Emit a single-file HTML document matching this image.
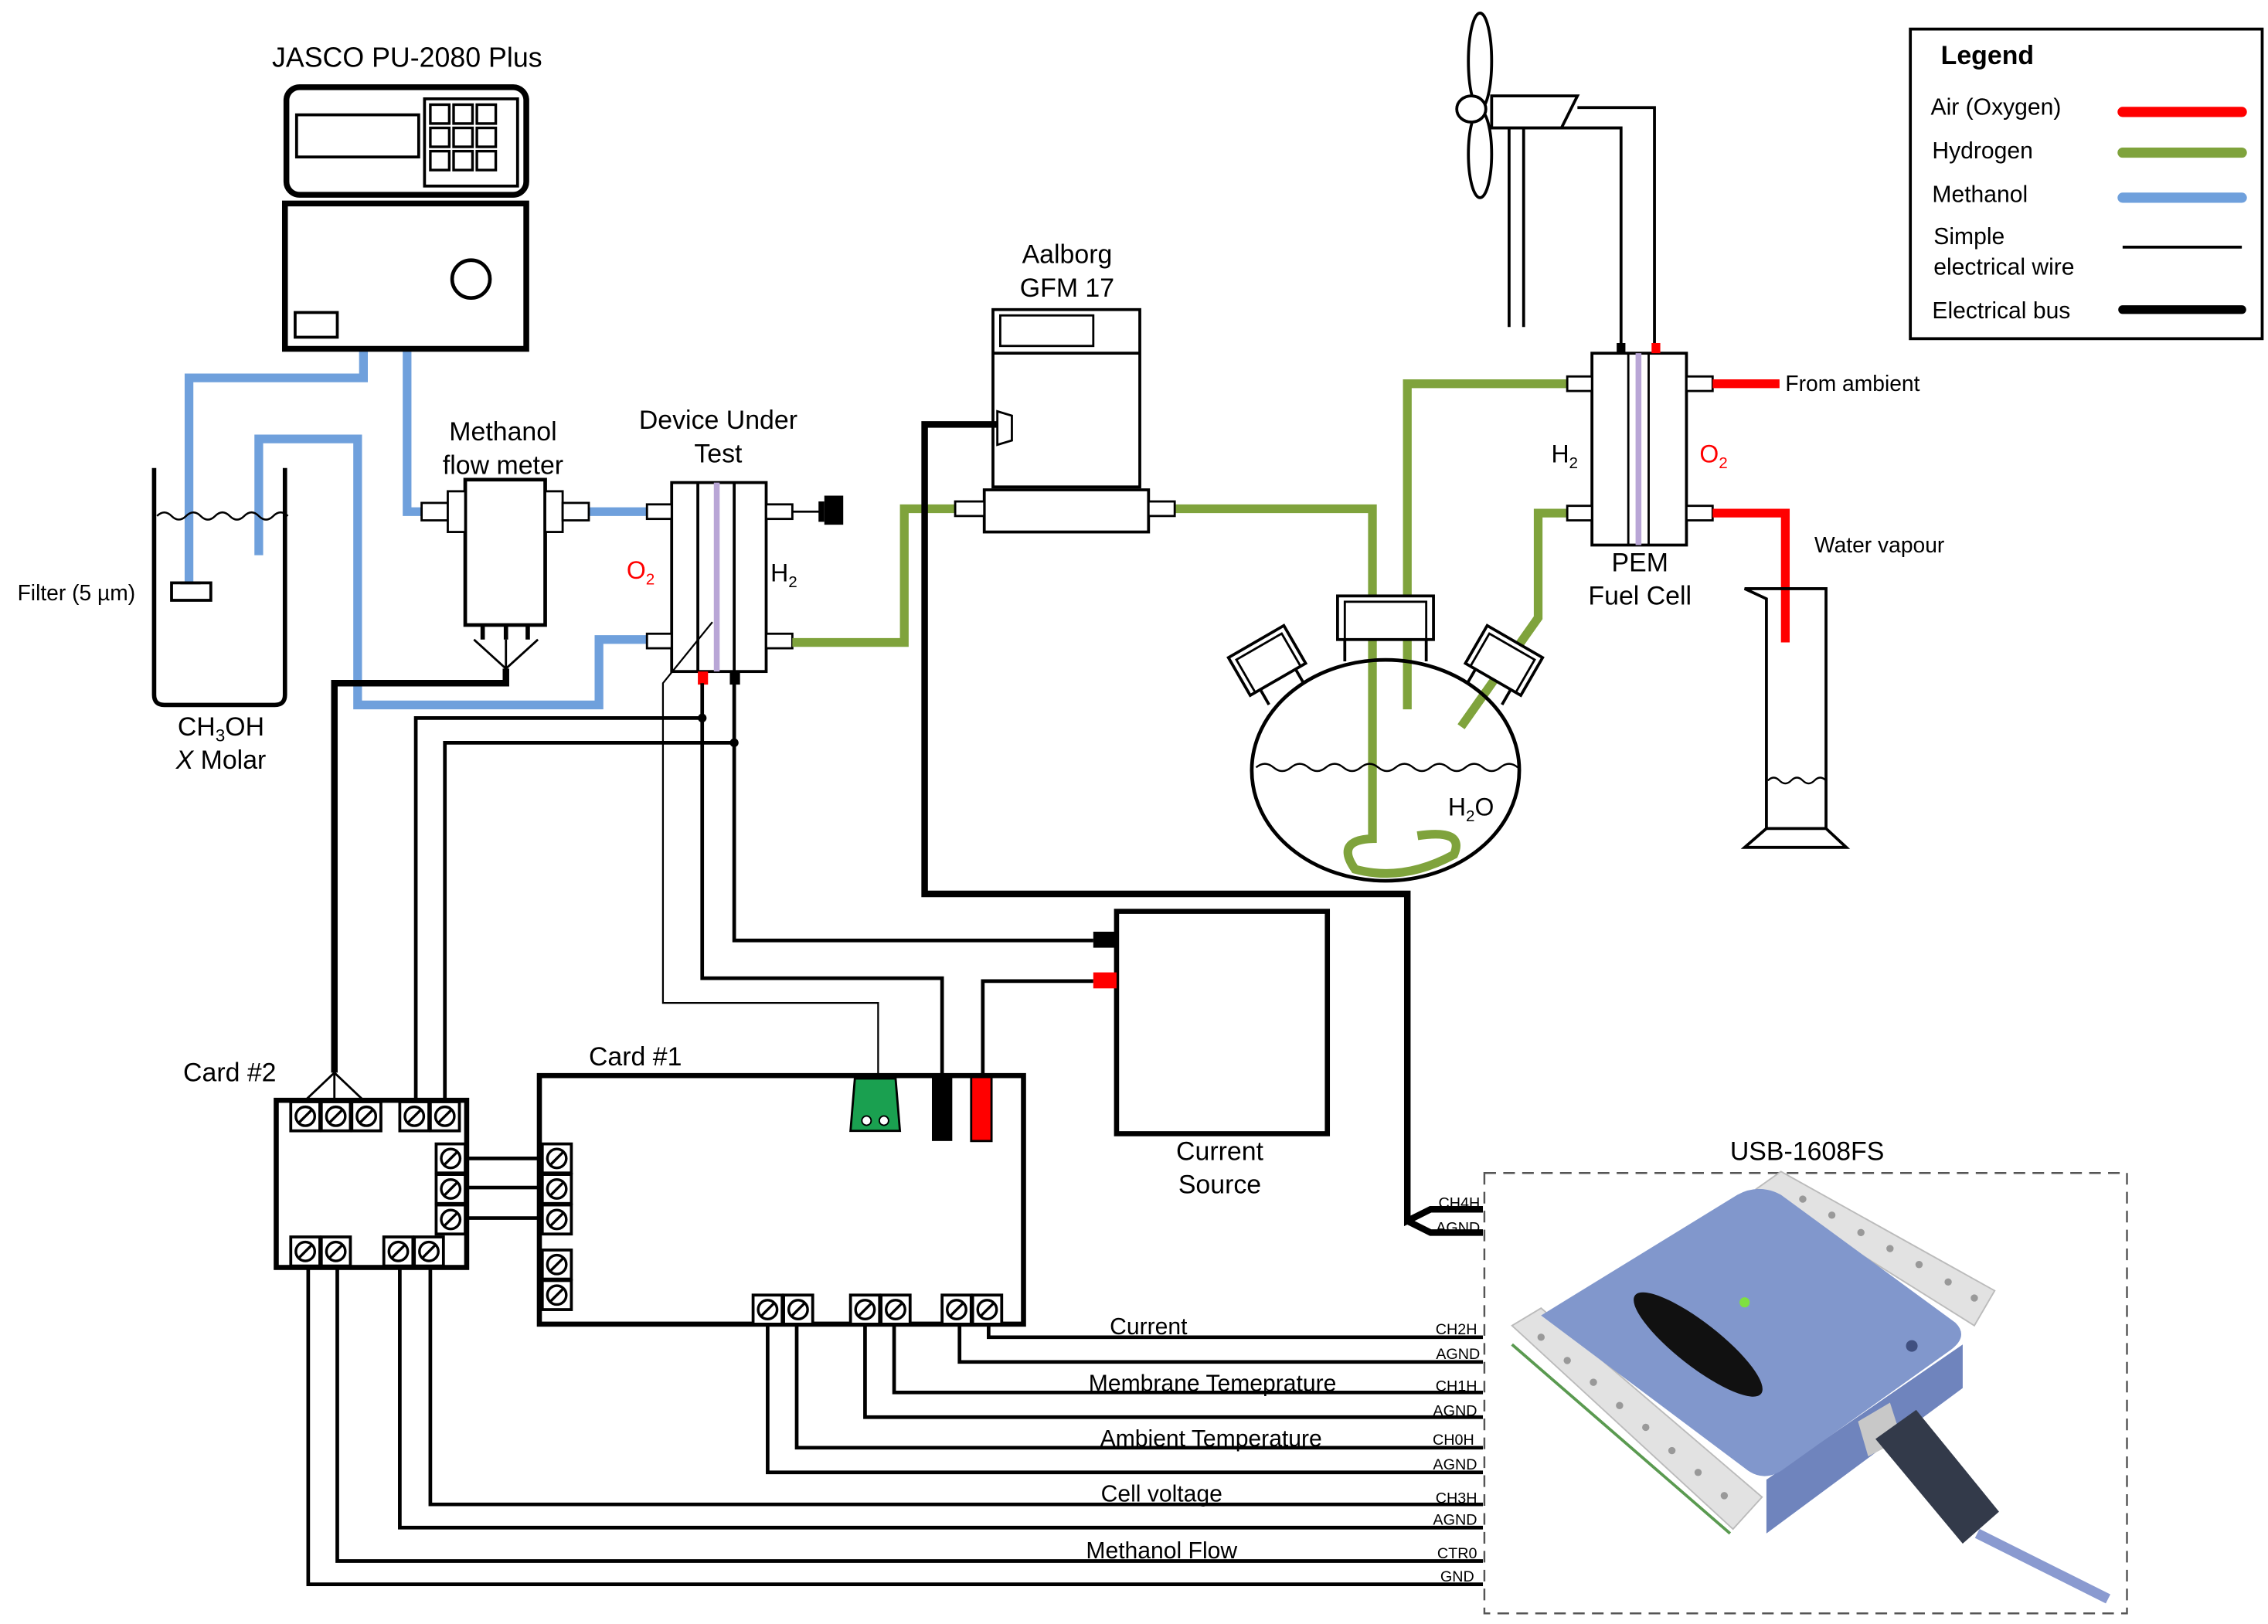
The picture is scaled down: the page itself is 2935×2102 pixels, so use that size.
<!DOCTYPE html>
<html><head><meta charset="utf-8"><style>
html,body{margin:0;padding:0;background:#fff}
svg{display:block}
text{font-family:"Liberation Sans",sans-serif;fill:#000}
</style></head><body>
<svg width="2935" height="2102" viewBox="0 0 1560 1117.3" preserveAspectRatio="none" xmlns="http://www.w3.org/2000/svg">
<defs>
<g id="term"><rect x="0" y="0" width="20" height="20" fill="#fff" stroke="#000" stroke-width="2"/><circle cx="10" cy="10" r="6.5" fill="none" stroke="#000" stroke-width="1.8"/><line x1="5.5" y1="14.5" x2="14.5" y2="5.5" stroke="#000" stroke-width="1.8"/></g>
</defs>
<rect width="1560" height="1118" fill="#fff"/>

<!-- Legend -->
<rect x="1314" y="20" width="242" height="213" fill="none" stroke="#000" stroke-width="2"/>
<text x="1335" y="44" font-size="18" font-weight="bold">Legend</text>
<text x="1328" y="79" font-size="16">Air (Oxygen)</text>
<text x="1329" y="109" font-size="16">Hydrogen</text>
<text x="1329" y="139" font-size="16">Methanol</text>
<text x="1330" y="168" font-size="16">Simple</text>
<text x="1330" y="189" font-size="16">electrical wire</text>
<text x="1329" y="219" font-size="16">Electrical bus</text>
<line x1="1460" y1="77" x2="1542" y2="77" stroke="#f00" stroke-width="7" stroke-linecap="round"/>
<line x1="1460" y1="105" x2="1542" y2="105" stroke="#7fa33c" stroke-width="7" stroke-linecap="round"/>
<line x1="1460" y1="136" x2="1542" y2="136" stroke="#6fa0dc" stroke-width="7" stroke-linecap="round"/>
<line x1="1460" y1="170" x2="1542" y2="170" stroke="#000" stroke-width="2"/>
<line x1="1460" y1="213" x2="1542" y2="213" stroke="#000" stroke-width="6" stroke-linecap="round"/>

<!-- pipes blue -->
<g fill="none" stroke="#6fa0dc" stroke-width="6">
<path d="M250 240 V260 H130 V402"/>
<path d="M178 382 V302 H246 V485 H412 V440 H445"/>
<path d="M280 240 V352 H292"/>
<path d="M404 352 H445"/>
</g>

<!-- JASCO -->
<text x="280" y="46" font-size="19" text-anchor="middle">JASCO PU-2080 Plus</text>
<rect x="197" y="60" width="165" height="74" rx="9" fill="#fff" stroke="#000" stroke-width="4"/>
<rect x="204" y="79" width="84" height="29" fill="none" stroke="#000" stroke-width="2"/>
<rect x="292" y="68" width="64" height="60" fill="none" stroke="#000" stroke-width="2"/>
<g fill="none" stroke="#000" stroke-width="1.8">
<rect x="296" y="72" width="13" height="13"/><rect x="312" y="72" width="13" height="13"/><rect x="328" y="72" width="13" height="13"/>
<rect x="296" y="88" width="13" height="13"/><rect x="312" y="88" width="13" height="13"/><rect x="328" y="88" width="13" height="13"/>
<rect x="296" y="104" width="13" height="13"/><rect x="312" y="104" width="13" height="13"/><rect x="328" y="104" width="13" height="13"/>
</g>
<rect x="196" y="140" width="166" height="100" fill="#fff" stroke="#000" stroke-width="4"/>
<circle cx="324" cy="192" r="13" fill="none" stroke="#000" stroke-width="2.5"/>
<rect x="203" y="215" width="29" height="17" fill="none" stroke="#000" stroke-width="2"/>

<!-- Beaker -->
<path d="M106 322 V478 Q106 485 113 485 H189 Q196 485 196 478 V322" fill="none" stroke="#000" stroke-width="3"/>
<path d="M108 355 q5 -5 10 0 t10 0 t10 0 t10 0 t10 0 t10 0 t10 0 t10 0 t10 0" fill="none" stroke="#000" stroke-width="1.3"/>
<rect x="118" y="401" width="27" height="12" fill="#fff" stroke="#000" stroke-width="2"/>
<line x1="124" y1="401" x2="138" y2="401" stroke="#000" stroke-width="2"/>
<text x="12" y="413" font-size="15">Filter (5 µm)</text>
<text x="152" y="506" font-size="18" text-anchor="middle">CH<tspan font-size="12" dy="4">3</tspan><tspan dy="-4">OH</tspan></text>
<text x="152" y="529" font-size="18" text-anchor="middle"><tspan font-style="italic">X</tspan> Molar</text>

<!-- Methanol flow meter -->
<text x="346" y="303" font-size="18" text-anchor="middle">Methanol</text>
<text x="346" y="326" font-size="18" text-anchor="middle">flow meter</text>
<rect x="320" y="330" width="55" height="100" fill="#fff" stroke="#000" stroke-width="2.5"/>
<rect x="290" y="346" width="18" height="12" fill="#fff" stroke="#000" stroke-width="1.5"/>
<rect x="308" y="338" width="12" height="28" fill="#fff" stroke="#000" stroke-width="1.5"/>
<rect x="375" y="338" width="12" height="28" fill="#fff" stroke="#000" stroke-width="1.5"/>
<rect x="387" y="346" width="18" height="12" fill="#fff" stroke="#000" stroke-width="1.5"/>
<g stroke="#000" stroke-width="3"><line x1="332" y1="430" x2="332" y2="440"/><line x1="348" y1="430" x2="348" y2="440"/><line x1="363" y1="430" x2="363" y2="440"/></g>
<path d="M326 440 L348 460 L370 440 M348 440 V460" fill="none" stroke="#000" stroke-width="1.5"/>

<!-- DUT -->
<text x="494" y="295" font-size="18" text-anchor="middle">Device Under</text>
<text x="494" y="318" font-size="18" text-anchor="middle">Test</text>
<rect x="462" y="332" width="65" height="130" fill="#fff" stroke="#000" stroke-width="2"/>
<line x1="480" y1="332" x2="480" y2="462" stroke="#000" stroke-width="2"/>
<line x1="493" y1="332" x2="493" y2="462" stroke="#b9a6d6" stroke-width="4"/>
<line x1="505" y1="332" x2="505" y2="462" stroke="#000" stroke-width="2"/>
<g fill="#fff" stroke="#000" stroke-width="1.5">
<rect x="445" y="347" width="17" height="10"/><rect x="445" y="436" width="17" height="10"/>
<rect x="527" y="347" width="18" height="10"/><rect x="527" y="436" width="18" height="10"/>
</g>
<line x1="545" y1="352" x2="565" y2="352" stroke="#000" stroke-width="1.5"/>
<rect x="563" y="345" width="4" height="14" fill="#000"/><rect x="567" y="341" width="13" height="20" fill="#000"/>
<text x="431" y="398" font-size="17" style="fill:#f00">O<tspan font-size="11" dy="4">2</tspan></text>
<text x="530" y="400" font-size="17">H<tspan font-size="11" dy="4">2</tspan></text>
<rect x="480" y="462" width="7" height="9" fill="#f00"/>
<rect x="502" y="462" width="7" height="9" fill="#000"/>

<!-- green pipes -->
<g fill="none" stroke="#7fa33c" stroke-width="6">
<path d="M545 442 H622 V350 H657"/>
<path d="M808 350 H944 V577 Q918 578 932 598 Q965 607 1000 588 Q1008 570 975 575"/>
<path d="M1078 264 H968 V488"/>
<path d="M1078 353 H1058 V425 L1005 500"/>
</g>

<!-- Aalborg -->
<text x="734" y="181" font-size="18" text-anchor="middle">Aalborg</text>
<text x="734" y="204" font-size="18" text-anchor="middle">GFM 17</text>
<rect x="683" y="213" width="101" height="122" fill="#fff" stroke="#000" stroke-width="2"/>
<line x1="683" y1="243" x2="784" y2="243" stroke="#000" stroke-width="2"/>
<rect x="688" y="217" width="64" height="21" fill="none" stroke="#000" stroke-width="1.5"/>
<path d="M686 283 L696 286 V303 L686 306 Z" fill="#fff" stroke="#000" stroke-width="1.5"/>
<rect x="677" y="337" width="113" height="29" fill="#fff" stroke="#000" stroke-width="2"/>
<rect x="657" y="345" width="20" height="10" fill="#fff" stroke="#000" stroke-width="1.5"/>
<rect x="790" y="345" width="18" height="10" fill="#fff" stroke="#000" stroke-width="1.5"/>

<!-- Black bus -->
<path d="M686 292 H636 V615 H968 V840 L984 832 H1020 M968 840 L984 848 H1020" fill="none" stroke="#000" stroke-width="4.5"/>
<path d="M348 460 V470 H230 V738" fill="none" stroke="#000" stroke-width="4.5"/>
<path d="M230 738 L210 757 M230 738 L250 757 M230 738 V757" fill="none" stroke="#000" stroke-width="1.5"/>

<!-- Flask -->
<ellipse cx="953" cy="530" rx="92" ry="76" fill="none" stroke="#000" stroke-width="2.5"/>
<rect x="920" y="410" width="66" height="30" fill="#fff" stroke="#000" stroke-width="2"/>
<rect x="925" y="414" width="56" height="26" fill="none" stroke="#000" stroke-width="1.5"/>
<line x1="925" y1="440" x2="925" y2="455" stroke="#000" stroke-width="2"/>
<line x1="981" y1="440" x2="981" y2="455" stroke="#000" stroke-width="2"/>
<g transform="translate(873,457) rotate(-30)"><rect x="-22" y="-18" width="44" height="30" fill="#fff" stroke="#000" stroke-width="2"/><rect x="-18" y="-14" width="36" height="26" fill="none" stroke="#000" stroke-width="1.5"/><line x1="-14" y1="12" x2="-14" y2="24" stroke="#000" stroke-width="2"/><line x1="14" y1="12" x2="14" y2="24" stroke="#000" stroke-width="2"/></g>
<g transform="translate(1033,457) rotate(30)"><rect x="-22" y="-18" width="44" height="30" fill="#fff" stroke="#000" stroke-width="2"/><rect x="-18" y="-14" width="36" height="26" fill="none" stroke="#000" stroke-width="1.5"/><line x1="-14" y1="12" x2="-14" y2="24" stroke="#000" stroke-width="2"/><line x1="14" y1="12" x2="14" y2="24" stroke="#000" stroke-width="2"/></g>
<path d="M864 528 q6 -5 12 0 t12 0 t12 0 t12 0 t12 0 t12 0 t12 0 t12 0 t12 0 t12 0 t12 0 t12 0 t12 0 t12 0 t12 0" fill="none" stroke="#000" stroke-width="1.3"/>
<text x="996" y="561" font-size="17">H<tspan font-size="11" dy="4">2</tspan><tspan dy="-4">O</tspan></text>

<!-- Fan -->
<ellipse cx="1018" cy="42" rx="8" ry="33" fill="#fff" stroke="#000" stroke-width="2"/>
<ellipse cx="1018" cy="106" rx="8" ry="30" fill="#fff" stroke="#000" stroke-width="2"/>
<ellipse cx="1012" cy="75" rx="10" ry="9" fill="#fff" stroke="#000" stroke-width="2"/>
<path d="M1026 66 H1085 L1074 88 H1026 Z" fill="#fff" stroke="#000" stroke-width="2"/>
<line x1="1038" y1="88" x2="1038" y2="225" stroke="#000" stroke-width="2"/>
<line x1="1048" y1="88" x2="1048" y2="225" stroke="#000" stroke-width="2"/>
<path d="M1085 74 H1138 V243 M1074 88 H1115 V243" fill="none" stroke="#000" stroke-width="2"/>

<!-- PEM -->
<rect x="1095" y="243" width="65" height="132" fill="#fff" stroke="#000" stroke-width="2"/>
<line x1="1120" y1="243" x2="1120" y2="375" stroke="#000" stroke-width="1.5"/>
<line x1="1127" y1="243" x2="1127" y2="375" stroke="#b9a6d6" stroke-width="4"/>
<line x1="1134" y1="243" x2="1134" y2="375" stroke="#000" stroke-width="1.5"/>
<rect x="1112" y="236" width="6" height="7" fill="#000"/>
<rect x="1136" y="236" width="6" height="7" fill="#f00"/>
<g fill="#fff" stroke="#000" stroke-width="1.5">
<rect x="1078" y="259" width="17" height="10"/><rect x="1078" y="348" width="17" height="10"/>
<rect x="1160" y="259" width="18" height="10"/><rect x="1160" y="348" width="18" height="10"/>
</g>
<path d="M1178 264 H1224" fill="none" stroke="#f00" stroke-width="6"/>
<path d="M1178 353 H1228 V442" fill="none" stroke="#f00" stroke-width="6"/>
<text x="1228" y="269" font-size="15">From ambient</text>
<text x="1248" y="380" font-size="15">Water vapour</text>
<text x="1067" y="318" font-size="17">H<tspan font-size="11" dy="4">2</tspan></text>
<text x="1169" y="318" font-size="17" style="fill:#f00">O<tspan font-size="11" dy="4">2</tspan></text>
<text x="1128" y="393" font-size="18" text-anchor="middle">PEM</text>
<text x="1128" y="416" font-size="18" text-anchor="middle">Fuel Cell</text>
<!-- cylinder -->
<path d="M1200 405 H1256 V570 L1270 583 H1200 L1215 570 V412 Z" fill="none" stroke="#000" stroke-width="2"/>
<line x1="1215" y1="570" x2="1256" y2="570" stroke="#000" stroke-width="2"/>
<path d="M1216 537 q4 -4 8 0 t8 0 t8 0 t8 0 t8 0" fill="none" stroke="#000" stroke-width="1.2"/>

<!-- thin wires -->
<g fill="none" stroke="#000" stroke-width="2.5">
<path d="M505 470 V647 H752"/>
<path d="M483 470 V673 H648 V741"/>
<path d="M676 741 V675 H752"/>
<path d="M286 757 V494 H483"/>
<path d="M306 757 V511 H505"/>
<path d="M321 797 H371 M321 817 H371 M321 838 H371"/>
</g>
<path d="M490 428 L456 470 V690 H604 V741" fill="none" stroke="#000" stroke-width="1.2"/>
<circle cx="483" cy="494" r="3" fill="#000"/><circle cx="505" cy="511" r="3" fill="#000"/>

<!-- Current Source -->
<rect x="768" y="627" width="145" height="153" fill="#fff" stroke="#000" stroke-width="3.5"/>
<rect x="752" y="641" width="16" height="11" fill="#000"/>
<rect x="752" y="669" width="16" height="11" fill="#f00"/>
<text x="839" y="798" font-size="18" text-anchor="middle">Current</text>
<text x="839" y="821" font-size="18" text-anchor="middle">Source</text>

<!-- Card #2 -->
<text x="126" y="744" font-size="18">Card #2</text>
<rect x="190" y="757" width="131" height="115" fill="#fff" stroke="#000" stroke-width="3.5"/>
<use href="#term" x="200" y="758"/><use href="#term" x="221" y="758"/><use href="#term" x="242" y="758"/>
<use href="#term" x="275" y="758"/><use href="#term" x="296" y="758"/>
<use href="#term" x="300" y="787"/><use href="#term" x="300" y="808"/><use href="#term" x="300" y="829"/>
<use href="#term" x="200" y="851"/><use href="#term" x="221" y="851"/>
<use href="#term" x="264" y="851"/><use href="#term" x="285" y="851"/>

<!-- Card #1 -->
<text x="405" y="733" font-size="18">Card #1</text>
<rect x="371" y="740" width="333" height="171" fill="#fff" stroke="#000" stroke-width="3.5"/>
<use href="#term" x="373" y="787"/><use href="#term" x="373" y="808"/><use href="#term" x="373" y="829"/>
<use href="#term" x="373" y="860"/><use href="#term" x="373" y="881"/>
<use href="#term" x="518" y="891"/><use href="#term" x="539" y="891"/>
<use href="#term" x="585" y="891"/><use href="#term" x="606" y="891"/>
<use href="#term" x="648" y="891"/><use href="#term" x="669" y="891"/>
<path d="M588 742 H616 L619 778 H585 Z" fill="#1aa050" stroke="#000" stroke-width="1.5"/>
<circle cx="596" cy="771" r="3.2" fill="#fff" stroke="#000"/><circle cx="608" cy="771" r="3.2" fill="#fff" stroke="#000"/>
<rect x="641" y="741" width="14" height="44" fill="#000"/>
<rect x="668" y="741" width="14" height="44" fill="#f00" stroke="#000" stroke-width="1.5"/>

<!-- signal lines -->
<g fill="none" stroke="#000" stroke-width="2.5">
<path d="M680 911 V920 H1020"/>
<path d="M660 911 V937 H1020"/>
<path d="M615 911 V958 H1020"/>
<path d="M595 911 V975 H1020"/>
<path d="M548 911 V996 H1020"/>
<path d="M528 911 V1013 H1020"/>
<path d="M296 871 V1035 H1020"/>
<path d="M275 871 V1051 H1020"/>
<path d="M232 871 V1074 H1020"/>
<path d="M212 871 V1090 H1020"/>
</g>
<text x="790" y="918" font-size="16" text-anchor="middle">Current</text>
<text x="834" y="957" font-size="16" text-anchor="middle">Membrane Temeprature</text>
<text x="833" y="995" font-size="16" text-anchor="middle">Ambient Temperature</text>
<text x="799" y="1033" font-size="16" text-anchor="middle">Cell voltage</text>
<text x="799" y="1072" font-size="16" text-anchor="middle">Methanol Flow</text>
<g font-size="10.5" text-anchor="end">
<text x="1018" y="831">CH4H</text><text x="1018" y="848">AGND</text>
<text x="1016" y="918">CH2H</text><text x="1018" y="935">AGND</text>
<text x="1016" y="957">CH1H</text><text x="1016" y="974">AGND</text>
<text x="1014" y="994">CH0H</text><text x="1016" y="1011">AGND</text>
<text x="1016" y="1034">CH3H</text><text x="1016" y="1049">AGND</text>
<text x="1016" y="1072">CTR0</text><text x="1014" y="1088">GND</text>
</g>

<!-- USB box -->
<text x="1243" y="798" font-size="18" text-anchor="middle">USB-1608FS</text>
<rect x="1021" y="807" width="442" height="303" fill="none" stroke="#555" stroke-width="1.3" stroke-dasharray="8,5"/>
<!-- terminal strips -->
<polygon points="1208,818 1225,806 1372,888 1358,912" fill="#e2e2e2" stroke="#bbb" stroke-width="1"/>
<polygon points="1040,912 1060,900 1212,1030 1192,1052" fill="#e2e2e2" stroke="#bbb" stroke-width="1"/>
<line x1="1040" y1="925" x2="1190" y2="1055" stroke="#5a9a50" stroke-width="2"/>
<g fill="#999">
<circle cx="1240" cy="825" r="2.5"/><circle cx="1260" cy="836" r="2.5"/><circle cx="1280" cy="848" r="2.5"/><circle cx="1300" cy="859" r="2.5"/><circle cx="1320" cy="870" r="2.5"/><circle cx="1340" cy="882" r="2.5"/><circle cx="1358" cy="893" r="2.5"/>
<circle cx="1060" cy="920" r="2.5"/><circle cx="1078" cy="936" r="2.5"/><circle cx="1096" cy="951" r="2.5"/><circle cx="1114" cy="967" r="2.5"/><circle cx="1132" cy="982" r="2.5"/><circle cx="1150" cy="998" r="2.5"/><circle cx="1168" cy="1013" r="2.5"/><circle cx="1186" cy="1029" r="2.5"/>
</g>
<!-- body -->
<path d="M1215 1018 L1350 925 V955 L1215 1055 Z" fill="#6f84bd"/>
<path d="M1060 905 L1195 822 Q1210 814 1225 822 L1345 910 Q1355 920 1340 930 L1225 1012 Q1212 1020 1200 1010 Z" fill="#8197cc"/>
<ellipse cx="1168" cy="925" rx="55" ry="15" transform="rotate(38 1168 925)" fill="#111"/>
<circle cx="1200" cy="896" r="3.5" fill="#7fe040"/>
<circle cx="1315" cy="926" r="4" fill="#405080"/>
<!-- usb plug -->
<polygon points="1278,978 1300,965 1308,990 1285,1002" fill="#c8c8c8"/>
<polygon points="1290,990 1318,970 1375,1040 1350,1062" fill="#333a4a"/>
<line x1="1360" y1="1055" x2="1450" y2="1100" stroke="#8a9ad0" stroke-width="7"/>
</svg>
</body></html>
